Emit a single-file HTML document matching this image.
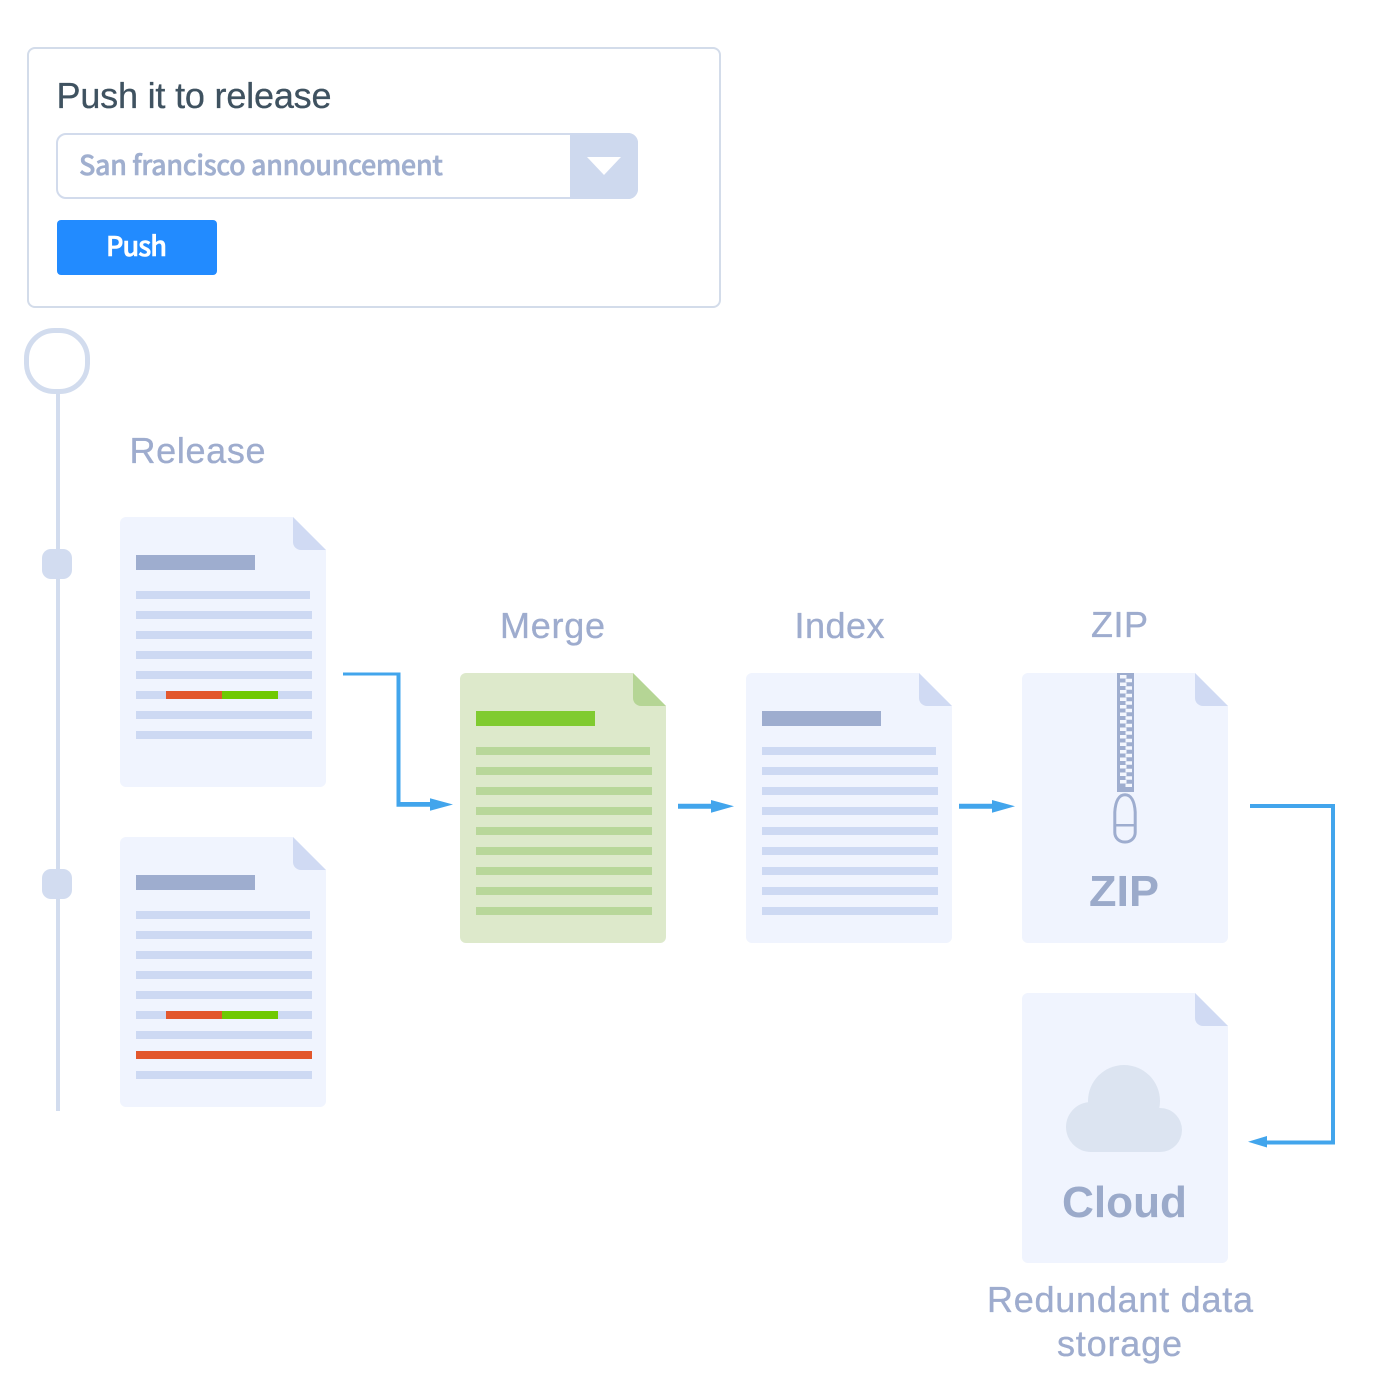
<!DOCTYPE html>
<html><head><meta charset="utf-8"><style>
html,body{margin:0;padding:0;background:#fff}
svg{display:block}
text{font-family:"Liberation Sans",sans-serif}
.lbl{fill:#9eacce;font-size:36px;stroke:#9eacce;stroke-width:.35px}
.big{fill:#9baaca;font-weight:bold;font-size:44px}
.os{font-family:"Noto Sans CJK SC","Liberation Sans",sans-serif;font-weight:500}
.arrow{fill:#42a5ec}
</style></head><body>
<svg width="1400" height="1400" viewBox="0 0 1400 1400" xmlns="http://www.w3.org/2000/svg">
<defs>
<g id="base">
<path d="M6 0H173L206 33V264a6 6 0 0 1-6 6H6a6 6 0 0 1-6-6V6a6 6 0 0 1 6-6Z"/>
</g>
<g id="fold"><path d="M173 0L206 33H181a8 8 0 0 1-8-8Z"/></g>
<g id="lines8">
<rect x="16" y="74" width="174" height="8"/>
<rect x="16" y="94" width="176" height="8"/>
<rect x="16" y="114" width="176" height="8"/>
<rect x="16" y="134" width="176" height="8"/>
<rect x="16" y="154" width="176" height="8"/>
<rect x="16" y="174" width="176" height="8"/>
<rect x="16" y="194" width="176" height="8"/>
<rect x="16" y="214" width="176" height="8"/>
</g>
<g id="lines">
<use href="#lines8"/>
<rect x="16" y="234" width="176" height="8"/>
</g>
<pattern id="teeth" x="1120" y="675" width="12" height="7.5" patternUnits="userSpaceOnUse">
<rect x="0" y="0" width="6.500" height="3.500" fill="#f4f7fe"/>
<rect x="5.500" y="3.750" width="6.500" height="3.500" fill="#f4f7fe"/>
</pattern>
</defs>

<!-- card -->
<rect x="28" y="48" width="692" height="259" rx="7" fill="#fff" stroke="#d3dcea" stroke-width="2"/>
<text x="56.500" y="108" font-size="36" fill="#3f5260" stroke="#3f5260" stroke-width=".3" textLength="275" lengthAdjust="spacing">Push it to release</text>
<rect x="57" y="134" width="580" height="64" rx="9" fill="#fff" stroke="#d2dbec" stroke-width="2"/>
<path d="M570 133H628a10 10 0 0 1 10 10V189a10 10 0 0 1-10 10H570Z" fill="#ced9ee"/>
<path d="M587 157H621L604 175Z" fill="#fff"/>
<text class="os" x="79" y="175" font-size="27" fill="#a0afcf" stroke="#a0afcf" stroke-width=".5" textLength="364" lengthAdjust="spacing">San francisco announcement</text>
<rect x="57" y="220" width="160" height="55" rx="4" fill="#228bff"/>
<text class="os" x="106" y="256" font-size="27" fill="#fff" stroke="#fff" stroke-width=".6" textLength="61" lengthAdjust="spacing">Push</text>

<!-- timeline -->
<rect x="56" y="390" width="4" height="721" fill="#d2dcee"/>
<rect x="26.500" y="330.500" width="61" height="61" rx="28" fill="#fff" stroke="#d2dcee" stroke-width="5"/>
<rect x="42" y="549" width="30" height="30" rx="9" fill="#d2dcf0"/>
<rect x="42" y="869" width="30" height="30" rx="9" fill="#d2dcf0"/>

<!-- labels -->
<text class="lbl" x="129.500" y="463" textLength="136" lengthAdjust="spacing">Release</text>
<text class="lbl" x="500" y="638" textLength="105" lengthAdjust="spacing">Merge</text>
<text class="lbl" x="794.500" y="638" textLength="90" lengthAdjust="spacing">Index</text>
<text class="lbl" x="1091" y="637" textLength="57" lengthAdjust="spacing">ZIP</text>
<text class="lbl" x="987" y="1312" textLength="266" lengthAdjust="spacing">Redundant data</text>
<text class="lbl" x="1057" y="1356" textLength="125" lengthAdjust="spacing">storage</text>

<!-- doc 1 -->
<g transform="translate(120,517)">
<use href="#base" fill="#f0f4fe"/><use href="#fold" fill="#d0daf3"/>
<use href="#lines8" fill="#cdd9f3"/>
<rect x="16" y="38" width="119" height="15" fill="#9eadcf"/>
<rect x="46" y="174" width="56" height="8" fill="#e2572d"/>
<rect x="102" y="174" width="56" height="8" fill="#6fc903"/>
</g>
<!-- doc 2 -->
<g transform="translate(120,837)">
<use href="#base" fill="#f0f4fe"/><use href="#fold" fill="#d0daf3"/>
<use href="#lines" fill="#cdd9f3"/>
<rect x="16" y="38" width="119" height="15" fill="#9eadcf"/>
<rect x="46" y="174" width="56" height="8" fill="#e2572d"/>
<rect x="102" y="174" width="56" height="8" fill="#6fc903"/>
<rect x="16" y="214" width="176" height="8" fill="#e2572d"/>
</g>
<!-- merge -->
<g transform="translate(460,673)">
<use href="#base" fill="#dde9cb"/><use href="#fold" fill="#b5d595"/>
<use href="#lines" fill="#b8d79a"/>
<rect x="16" y="38" width="119" height="15" fill="#80cb30"/>
</g>
<!-- index -->
<g transform="translate(746,673)">
<use href="#base" fill="#f0f4fe"/><use href="#fold" fill="#d0daf3"/>
<use href="#lines" fill="#cdd9f3"/>
<rect x="16" y="38" width="119" height="15" fill="#9eadcf"/>
</g>
<!-- zip -->
<g transform="translate(1022,673)">
<use href="#base" fill="#f0f4fe"/><use href="#fold" fill="#d0daf3"/>
</g>
<rect x="1117" y="673" width="17" height="119" fill="#9eadcf"/>
<rect x="1120" y="675" width="12" height="112" fill="url(#teeth)"/>
<path d="M1114.800 812C1115.500 801 1119 794.800 1125 794.800C1131 794.800 1134.500 801 1135.200 812V832.500a9.500 9.500 0 0 1-9.500 9.500h-1.400a9.500 9.500 0 0 1-9.500-9.500Z" fill="none" stroke="#9eadcf" stroke-width="3"/>
<rect x="1115" y="824" width="20" height="2.500" fill="#9eadcf"/>
<text class="big" x="1124" y="906" text-anchor="middle" textLength="70" lengthAdjust="spacingAndGlyphs">ZIP</text>
<!-- cloud doc -->
<g transform="translate(1022,993)">
<use href="#base" fill="#f0f4fe"/><use href="#fold" fill="#d0daf3"/>
</g>
<g fill="#dce4f1">
<circle cx="1124" cy="1101" r="36"/>
<circle cx="1091" cy="1127" r="25"/>
<circle cx="1160" cy="1130" r="22"/>
<rect x="1091" y="1110" width="69" height="42"/>
</g>
<text class="big" x="1124.500" y="1217" text-anchor="middle" textLength="125" lengthAdjust="spacingAndGlyphs">Cloud</text>

<!-- connectors -->
<g class="arrow">
<path d="M343 672.500H400.500V802H430V798.300L453 804.500L430 810.700V806.800H396.500V675.500H343Z"/>
<path d="M678 803.700H711V800L734 806.300L711 812.700V808.700H678Z"/>
<path d="M959 803.700H992V800L1015 806.300L992 812.700V808.700H959Z"/>
<path d="M1250 804H1335V1144.500H1267V1147.500L1248 1141.800L1267 1136V1140.500H1331V808H1250Z"/>
</g>
</svg>
</body></html>
